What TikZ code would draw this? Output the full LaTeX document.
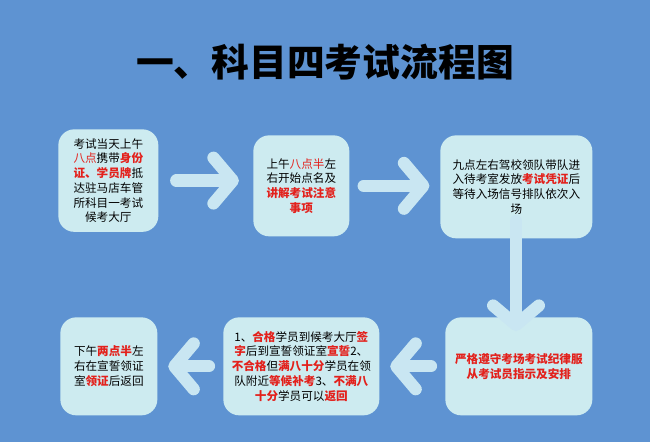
\documentclass[tikz,border=0pt]{standalone}
\usepackage{fontspec}
\setmainfont{Noto Sans CJK SC}
\usetikzlibrary{arrows.meta}
\definecolor{bgblue}{HTML}{5E93D2}
\definecolor{boxcyan}{HTML}{CDEBF0}
\definecolor{arrowblue}{HTML}{C9E6F2}
\definecolor{hired}{HTML}{E3201B}
\newcommand{\hl}[1]{{\bfseries\color{hired}#1}}
\tikzset{
  stepbox/.style={fill=boxcyan, rounded corners=9pt, align=center, inner sep=1pt,
    font=\fontsize{6.6}{8.4}\selectfont, anchor=north west},
  flowarrow/.style={draw=arrowblue, line width=7pt, line cap=round,
    -{Straight Barb[length=11pt,width=26pt,line width=7pt,round]}}
}
\begin{document}
\begin{tikzpicture}[x=0.02cm,y=-0.02cm]
\fill[bgblue] (0,0) rectangle (650,442);
\useasboundingbox (0,0) rectangle (650,442);

\node (title) at (325,62) {\fontsize{21.5}{22}\selectfont\bfseries 一、科目四考试流程图};

\node[stepbox, minimum width=2.0cm, minimum height=2.05cm] (start) at (58,129)
  {考试当天上午\\\textcolor{hired}{八点}携带\hl{身份}\\\hl{证、学员牌}抵\\达驻马店车管\\所科目一考试\\候考大厅};
\node[stepbox, minimum width=1.92cm, minimum height=2.02cm] (rollcall) at (253,135)
  {上午\textcolor{hired}{八点半}左\\右开始点名及\\\hl{讲解考试注意}\\\hl{事项}};
\node[stepbox, minimum width=3.04cm, minimum height=2.06cm] (enter) at (440,135)
  {九点左右驾校领队带队进\\入待考室发放\hl{考试凭证}后\\等待入场信号排队依次入\\场};
\node[stepbox, minimum width=2.94cm, minimum height=1.96cm] (obey) at (445,317)
  {\hl{严格遵守考场考试纪律服}\\\hl{从考试员指示及安排}};
\node[stepbox, minimum width=3.12cm, minimum height=1.96cm] (result) at (223,317)
  {1、\hl{合格}学员到候考大厅\hl{签}\\\hl{字}后到宣誓领证室\hl{宣誓}2、\\\hl{不合格}但\hl{满八十分}学员在领\\队附近\hl{等候补考}3、\hl{不满八}\\\hl{十分}学员可以\hl{返回}};
\node[stepbox, minimum width=1.94cm, minimum height=1.96cm] (license) at (60,317)
  {下午\hl{两点半}左\\右在宣誓领证\\室\hl{领证}后返回};

\draw[flowarrow] ([xshift=10]start.east) -- ([xshift=-8]rollcall.west |- start.east);
\draw[flowarrow] ([xshift=8]rollcall.east) -- ([xshift=-6]enter.west |- rollcall.east);
\draw[flowarrow] ([yshift=10]enter.south -| 516,0) -- ([yshift=-8]obey.north -| 516,0);
\draw[flowarrow] ([xshift=-8]obey.west) -- ([xshift=6]result.east);
\draw[flowarrow] ([xshift=-8]result.west) -- ([xshift=6]license.east);
\end{tikzpicture}
\end{document}
